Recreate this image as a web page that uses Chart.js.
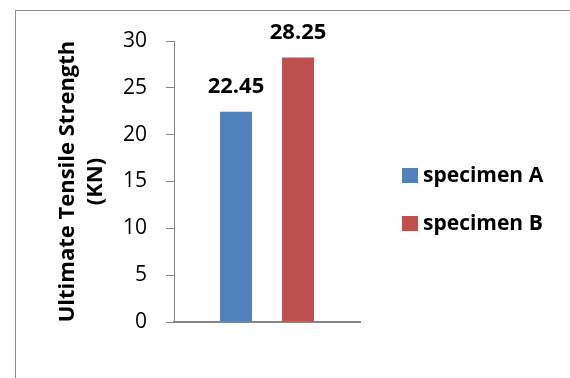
<!DOCTYPE html>
<html>
<head>
<meta charset="utf-8">
<script src="https://cdn.jsdelivr.net/npm/chart.js@4.4.0/dist/chart.umd.min.js"></script>
<style>
  html, body { margin: 0; padding: 0; background: #fff; }
  #wrap { position: relative; width: 570px; height: 378px; overflow: hidden; }
  #frame { position: absolute; left: 15px; top: 10px; width: 640px; height: 460px; border: 1px solid #8c8c8c; }
  canvas { position: absolute; left: 0; top: 0; }
</style>
</head>
<body>
<div id="wrap">
  <div id="frame"></div>
  <canvas id="c" width="570" height="378"></canvas>
</div>
<script>
// Ultimate tensile strength of the two specimens (KN)
const categories = [''];
const seriesNames = ['specimen A', 'specimen B'];
const specimenA = [22.45];
const specimenB = [28.25];
const seriesColors = ['#4F81BD', '#C0504D'];
const yTicks = [0, 5, 10, 15, 20, 25, 30];

const FONT = '"Open Sans", "DejaVu Sans", sans-serif';
const AXIS_GREY = '#868686';

// value above each bar
const valueLabels = {
  id: 'valueLabels',
  afterDatasetsDraw(chart) {
    const ctx = chart.ctx;
    ctx.save();
    ctx.font = 'bold 22px ' + FONT;
    ctx.fillStyle = '#000';
    ctx.textAlign = 'center';
    ctx.textBaseline = 'middle';
    chart.data.datasets.forEach((ds, i) => {
      chart.getDatasetMeta(i).data.forEach((bar, j) => {
        ctx.fillText(ds.data[j].toFixed(2), bar.x, bar.y - 25);
      });
    });
    ctx.restore();
  }
};

// legend to the right of the plot
const sideLegend = {
  id: 'sideLegend',
  afterDraw(chart) {
    const ctx = chart.ctx;
    ctx.save();
    ctx.font = 'bold 21px ' + FONT;
    ctx.textBaseline = 'middle';
    ctx.textAlign = 'left';
    chart.data.datasets.forEach((ds, i) => {
      const cy = 176 + i * 48;
      ctx.fillStyle = ds.backgroundColor;
      ctx.fillRect(402, cy - 8, 16, 15);
      ctx.fillStyle = '#000';
      ctx.fillText(ds.label, 423, cy);
    });
    ctx.restore();
  }
};

new Chart(document.getElementById('c'), {
  type: 'bar',
  data: {
    labels: categories,
    datasets: [
      { label: seriesNames[0], data: specimenA, backgroundColor: seriesColors[0] },
      { label: seriesNames[1], data: specimenB, backgroundColor: seriesColors[1] }
    ]
  },
  options: {
    responsive: false,
    animation: false,
    devicePixelRatio: 1,
    categoryPercentage: 0.667,
    barPercentage: 0.516,
    layout: { padding: { left: 0, top: 41, right: 210, bottom: 56 } },
    plugins: { legend: { display: false }, tooltip: { enabled: false } },
    scales: {
      x: {
        grid: { display: false },
        border: { display: true, color: AXIS_GREY, width: 2 },
        ticks: { display: false },
        afterFit(scale) { scale.height = 0; }
      },
      y: {
        min: 0,
        max: 30,
        afterBuildTicks(scale) { scale.ticks = yTicks.map(v => ({ value: v })); },
        grid: { drawOnChartArea: false, drawTicks: true, tickLength: 8, color: AXIS_GREY, lineWidth: 1 },
        border: { display: true, color: AXIS_GREY, width: 1 },
        ticks: { padding: 19, color: '#000', font: { family: FONT, size: 21 } },
        title: {
          display: true,
          text: ['Ultimate Tensile Strength', '(KN)'],
          color: '#000',
          font: { family: FONT, size: 22, weight: 'bold', lineHeight: 1.3 },
          padding: { top: 53, bottom: 0 }
        },
        afterFit(scale) { scale.width = 174; }
      }
    }
  },
  plugins: [valueLabels, sideLegend]
});
</script>
</body>
</html>
